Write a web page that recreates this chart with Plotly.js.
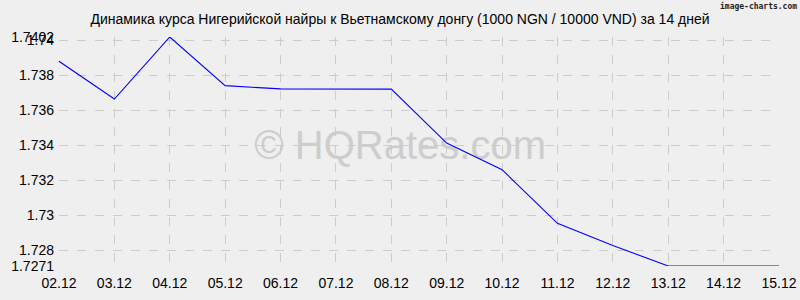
<!DOCTYPE html>
<html><head><meta charset="utf-8">
<script src="https://cdn.plot.ly/plotly-3.0.1.min.js"></script>
<style>body{margin:0;background:#efefef}</style>
</head><body><div id="chart" style="width:800px;height:300px"></div>
<script>
const dates = ["02.12","03.12","04.12","05.12","06.12","07.12","08.12","09.12","10.12","11.12","12.12","13.12","14.12","15.12"];
const rates = [1.73881,1.73665,1.7402,1.73742,1.73723,1.73723,1.73722,1.73413,1.73261,1.72954,1.72827,1.7271,1.7271,1.7271];
const yTickVals = [1.7271,1.728,1.73,1.732,1.734,1.736,1.738,1.74,1.7402];
const yTickText = ["1.7271","1.728","1.73","1.732","1.734","1.736","1.738","1.74","1.7402"];
const titleText = "Динамика курса Нигерийской найры к Вьетнамскому донгу (1000 NGN / 10000 VND) за 14 дней";
const watermark = "© HQRates.com";

const font = {family:"Liberation Sans, Arial, sans-serif", size:14, color:"#000"};
Plotly.newPlot("chart",[
{
  x:[6.16], y:[1.7338], type:"scatter", mode:"text", text:[watermark],
  textfont:{family:"Liberation Sans, Arial, sans-serif", size:40, color:"#cdcdcd"},
  textposition:"middle center", hoverinfo:"skip"
},
{
  x: dates.map((d,i)=>i), y: rates, type:"scatter", mode:"lines",
  line:{color:"#0000ff", width:1.1}, hoverinfo:"skip"
}],{
  width:800,height:300,
  paper_bgcolor:"#efefef", plot_bgcolor:"#efefef",
  margin:{l:59,r:21,t:37,b:34},
  showlegend:false,
  font:font,
  title:{text:titleText, font:{family:font.family,size:14,color:"#000"}, x:0.5, xanchor:"center", y:0.937, yanchor:"middle"},
  xaxis:{range:[0,13], tickvals:dates.map((d,i)=>i), ticktext:dates, showgrid:true, gridcolor:"#cccccc", griddash:"dash", gridwidth:1,
    zeroline:false, showline:false, ticks:"", tickfont:font, ticklabelstandoff:7},
  yaxis:{range:[1.7271,1.7402], tickvals:yTickVals, ticktext:yTickText, showgrid:true, gridcolor:"#cccccc", griddash:"dash", gridwidth:1,
    zeroline:false, showline:false, ticks:"", tickfont:font, ticklabelstandoff:4},
  annotations:[
    {text:"<b>image-charts.com</b>", xref:"paper", yref:"paper", x:1.0, y:1.0, xanchor:"right", yanchor:"top", showarrow:false,
     font:{family:"DejaVu Sans Mono, monospace", size:8, color:"#222"}, xshift:19, yshift:37, borderpad:0}
  ]
},{staticPlot:true});
</script></body></html>
